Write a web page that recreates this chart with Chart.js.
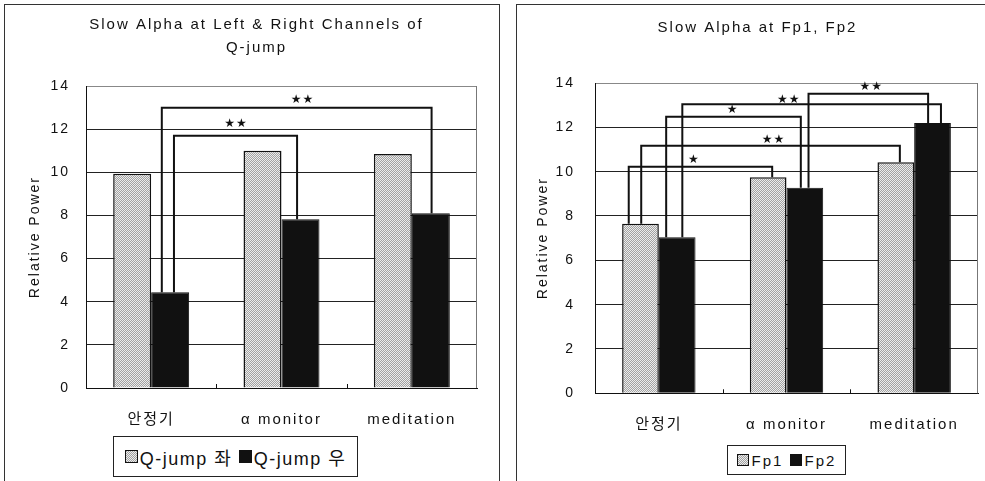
<!DOCTYPE html>
<html>
<head>
<meta charset="utf-8">
<script src="https://cdn.jsdelivr.net/npm/chart.js@4.4.1/dist/chart.umd.min.js"></script>
<style>
	body { margin: 0; background: #fff; width: 985px; height: 481px; overflow: hidden; position: relative;
		font-family: "Liberation Sans", "Noto Sans CJK KR", sans-serif; color: #111; }
	.panel { position: absolute; border: 1px solid #333; box-sizing: border-box; }
	#p1 { left: 4px; top: 4px; width: 496px; height: 490px; }
	#p2 { left: 516px; top: 4px; width: 480px; height: 490px; }
	canvas { position: absolute; top: 0; }
	#c1 { left: 0; }
	#c2 { left: 500px; }
	.legend { position: absolute; border: 1px solid #222; box-sizing: border-box; background: #fff;
		display: flex; align-items: center; justify-content: center; white-space: nowrap; }
	.legend span.item { display: inline-flex; align-items: center; }
	.sw { display: inline-block; box-sizing: border-box; border: 1px solid #111; }
	.sw.gray { background: repeating-conic-gradient(#ececec 0 25%, #a2a2a2 0 50%) 0 0 / 2px 2px; }
	.sw.black { background: #111; }
	#lg1 { left: 113px; top: 436px; width: 245px; height: 41px; font-size: 18px; letter-spacing: 1.5px; }
	#lg1 .sw { width: 13px; height: 13px; margin-right: 2px; }
	#lg2 { left: 727px; top: 445px; width: 119px; height: 30px; font-size: 15px; letter-spacing: 2px; }
	#lg2 .sw { width: 12px; height: 12px; margin-right: 3px; }
</style>
</head>
<body>
<div class="panel" id="p1"></div>
<div class="panel" id="p2"></div>
<canvas id="c1" width="499" height="481"></canvas>
<canvas id="c2" width="485" height="481"></canvas>
<div class="legend" id="lg1">
	<span class="item"><i class="sw gray"></i>Q-jump 좌</span>&nbsp;<span class="item"><i class="sw black"></i>Q-jump 우</span>
</div>
<div class="legend" id="lg2">
	<span class="item"><i class="sw gray"></i>Fp1</span>&nbsp;<span class="item"><i class="sw black"></i>Fp2</span>
</div>
<script>
(function () {
	'use strict';

	// ─── Data ───
	var categories = ['안정기', 'α monitor', 'meditation'];
	var yTicks = [0, 2, 4, 6, 8, 10, 12, 14];

	var qjumpLeft = [9.93, 11.0, 10.85];
	var qjumpRight = [4.44, 7.82, 8.1];

	var fp1 = [7.65, 9.75, 10.42];
	var fp2 = [7.04, 9.27, 12.2];

	// significance comparisons: [category, series] -> [category, series]
	var qjumpPairs = [
		{ from: [0, 1], to: [2, 1], label: '★★' },
		{ from: [0, 1], to: [1, 1], label: '★★' }
	];
	var fpPairs = [
		{ from: [0, 0], to: [1, 0], label: '★' },
		{ from: [0, 0], to: [2, 0], label: '★★' },
		{ from: [0, 1], to: [1, 1], label: '★' },
		{ from: [0, 1], to: [2, 1], label: '★★' },
		{ from: [1, 1], to: [2, 1], label: '★★' }
	];

	// ─── Bracket layout (heights in axis units, offsets inside the bars) ───
	var qjumpBracketLayout = [
		{ level: 13.0, f1: 0.28, f2: 0.52, lx: 0.52, ly: 7.5 },
		{ level: 11.7, f1: 0.60, f2: 0.41, lx: 0.50, ly: 12 }
	];
	var fpBracketLayout = [
		{ level: 10.22, f1: 0.18, f2: 0.61, lx: 0.45, ly: 7 },
		{ level: 11.17, f1: 0.52, f2: 0.61, lx: 0.51, ly: 5.5 },
		{ level: 12.48, f1: 0.20, f2: 0.39, lx: 0.49, ly: 6.5 },
		{ level: 13.04, f1: 0.64, f2: 0.73, lx: 0.41, ly: 4.5 },
		{ level: 13.52, f1: 0.60, f2: 0.38, lx: 0.52, ly: 6.5 }
	];

	var FONT = '"Liberation Sans", "Noto Sans CJK KR", sans-serif';
	var ink = '#111';

	// stippled gray like the scanned bars
	function makeStipple(ctx) {
		var c = document.createElement('canvas');
		c.width = 2; c.height = 2;
		var g = c.getContext('2d');
		g.fillStyle = '#ececec';
		g.fillRect(0, 0, 2, 2);
		g.fillStyle = '#a2a2a2';
		g.fillRect(1, 0, 1, 1);
		g.fillRect(0, 1, 1, 1);
		return ctx.createPattern(c, 'repeat');
	}

	var spacingPlugin = {
		id: 'spacing',
		beforeDraw: function (chart) {
			chart.ctx.letterSpacing = '2px';
		}
	};

	var framePlugin = {
		id: 'frame',
		afterDatasetsDraw: function (chart) {
			var ctx = chart.ctx;
			var a = chart.chartArea;
			var x = chart.scales.x;
			ctx.save();
			ctx.strokeStyle = '#777';
			ctx.lineWidth = 1;
			ctx.beginPath();
			ctx.moveTo(a.right - 0.5, a.top);
			ctx.lineTo(a.right - 0.5, a.bottom);
			ctx.stroke();
			// little category ticks pointing up from the axis
			ctx.strokeStyle = ink;
			ctx.beginPath();
			for (var i = 0; i < categories.length - 1; i++) {
				var bx = Math.round((x.getPixelForValue(i) + x.getPixelForValue(i + 1)) / 2) + 0.5;
				ctx.moveTo(bx, a.bottom);
				ctx.lineTo(bx, a.bottom - 4);
			}
			ctx.stroke();
			ctx.restore();
		}
	};

	var bracketPlugin = {
		id: 'brackets',
		afterDatasetsDraw: function (chart, args, opts) {
			var ctx = chart.ctx;
			var y = chart.scales.y;
			ctx.save();
			ctx.strokeStyle = ink;
			ctx.lineWidth = 2;
			ctx.fillStyle = ink;
			ctx.font = '12px "DejaVu Sans"';
			ctx.letterSpacing = '1px';
			ctx.textAlign = 'center';
			ctx.textBaseline = 'middle';
			opts.pairs.forEach(function (p, i) {
				var lay = opts.layout[i];
				var fb = chart.getDatasetMeta(p.from[1]).data[p.from[0]];
				var tb = chart.getDatasetMeta(p.to[1]).data[p.to[0]];
				var x1 = fb.x - fb.width / 2 + fb.width * lay.f1;
				var x2 = tb.x - tb.width / 2 + tb.width * lay.f2;
				var top = y.getPixelForValue(lay.level);
				ctx.beginPath();
				ctx.moveTo(x1, fb.y);
				ctx.lineTo(x1, top);
				ctx.lineTo(x2, top);
				ctx.lineTo(x2, tb.y);
				ctx.stroke();
				ctx.fillText(p.label, x1 + (x2 - x1) * lay.lx + 0.5, top - lay.ly);
			});
			ctx.restore();
		}
	};

	function buildChart(id, s) {
		var canvas = document.getElementById(id);
		var stipple = makeStipple(canvas.getContext('2d'));
		return new Chart(canvas, {
			type: 'bar',
			data: {
				labels: categories,
				datasets: [{
					data: s.series[0],
					backgroundColor: stipple,
					borderColor: ink,
					borderWidth: 1.5,
					categoryPercentage: s.catPct,
					barPercentage: 1.0
				}, {
					data: s.series[1],
					backgroundColor: ink,
					borderColor: ink,
					borderWidth: 1,
					categoryPercentage: s.catPct,
					barPercentage: 1.0
				}]
			},
			options: {
				responsive: false,
				animation: false,
				events: [],
				layout: { padding: { left: s.padL, right: s.padR, top: 5, bottom: s.padB } },
				plugins: {
					legend: { display: false },
					tooltip: { enabled: false },
					title: {
						display: true,
						text: s.title,
						color: ink,
						font: { family: FONT, size: 15, weight: 'normal', lineHeight: s.titleLH },
						padding: { top: s.titleTop, bottom: s.titleBottom }
					},
					brackets: { pairs: s.pairs, layout: s.layout }
				},
				scales: {
					x: {
						afterFit: function (scale) { scale.height = 40; },
						grid: { display: false },
						border: { display: true, color: ink, width: 1 },
						ticks: { color: ink, padding: 15, font: { family: FONT, size: 15 } }
					},
					y: {
						min: 0,
						max: 14,
						afterFit: function (scale) { scale.width = s.yWidth; },
						afterBuildTicks: function (scale) {
							scale.ticks = yTicks.map(function (v) { return { value: v }; });
						},
						grid: {
							drawTicks: false,
							color: function (c) { return c.tick && c.tick.value === 14 ? '#888' : '#222'; }
						},
						border: { display: true, color: ink, width: 1 },
						ticks: { color: ink, padding: s.tickPad, font: { family: FONT, size: 14 } },
						title: {
							display: true,
							text: 'Relative Power',
							color: ink,
							font: { family: FONT, size: 14 },
							padding: { top: s.yTitlePad, bottom: 0 }
						}
					}
				}
			},
			plugins: [spacingPlugin, framePlugin, bracketPlugin]
		});
	}

	buildChart('c1', {
		series: [qjumpLeft, qjumpRight],
		title: ['Slow Alpha at Left & Right Channels of', 'Q-jump'],
		titleLH: 1.57, titleTop: 8, titleBottom: 26,
		padL: 36, padR: 22, padB: 53,
		yWidth: 50, tickPad: 16, yTitlePad: -9.6,
		catPct: 0.583,
		pairs: qjumpPairs, layout: qjumpBracketLayout
	});

	buildChart('c2', {
		series: [fp1, fp2],
		title: 'Slow Alpha at Fp1, Fp2',
		titleLH: 1.2, titleTop: 14.3, titleBottom: 45.7,
		padL: 37, padR: 7, padB: 47.7,
		yWidth: 58, tickPad: 20, yTitlePad: -2.4,
		catPct: 0.575,
		pairs: fpPairs, layout: fpBracketLayout
	});
})();
</script>
</body>
</html>
